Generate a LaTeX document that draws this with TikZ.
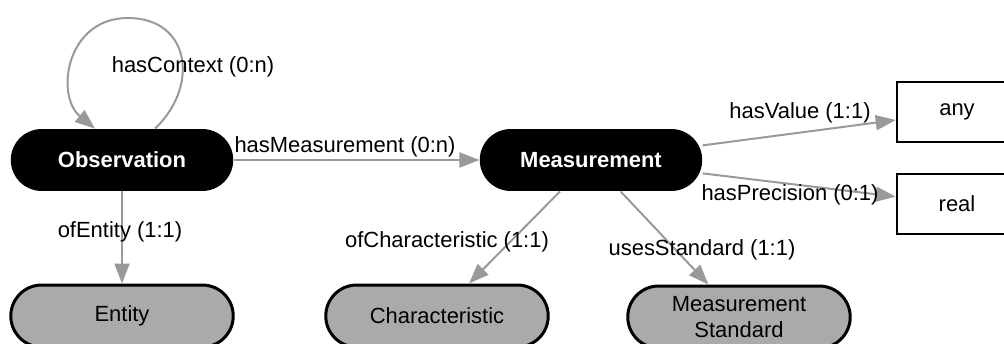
\documentclass[tikz,border=0pt]{standalone}
\usepackage{fontspec}
\setmainfont{Liberation Sans}
\usetikzlibrary{positioning, arrows.meta}
\definecolor{linkgray}{HTML}{999999}
\definecolor{boxgray}{HTML}{AAAAAA}

\begin{document}
\begin{tikzpicture}[x=0.02cm, y=-0.02cm,
    every node/.style={font=\fontsize{12.5}{15.3}\selectfont},
    term/.style={rounded corners=0.62cm, minimum width=4.45cm, minimum height=1.24cm, align=center, inner sep=0pt},
    mainbox/.style={term, fill=black, text=white, font=\fontsize{12.5}{15.3}\selectfont\bfseries},
    subbox/.style={term, fill=boxgray, draw=black, line width=0.06cm},
    litbox/.style={draw=black, line width=0.055cm, minimum width=2.4cm, minimum height=1.2cm},
    link/.style={draw=linkgray, line width=0.04cm, -{Triangle[length=0.4cm, width=0.3cm]}}]
    \useasboundingbox (0,0) rectangle (1004,344);
    % Classes
    \node[mainbox] (obs) at (122,160) {Observation};
    \node[mainbox] (msr) at (591,160) {Measurement};
    \node[subbox] (ent) at (122,316) {Entity};
    \node[subbox] (chr) at (437,316) {Characteristic};
    \node[subbox] (std) at (739,317) {Measurement\\Standard};
    \node[litbox] (anyv) at (957,112) {any};
    \node[litbox] (realv) at (957,204) {real};
    % Links
    \coordinate (ctxtop) at (128,18);
    \draw[link] ([xshift=0.66cm]obs.north) .. controls +(45,-43) and +(62,0) .. (ctxtop)
        .. controls +(-62,0) and +(-40,-33) .. ([xshift=-0.54cm]obs.north);
    \draw[link] (obs) -- (msr);
    \draw[link] (obs) -- (ent);
    \draw[link] (msr) -- (chr);
    \draw[link] (msr) -- (std);
    \draw[link] (msr) -- (anyv);
    \draw[link] (msr) -- (realv);
    % Labels
    \node (lctx) at (193,67) {hasContext (0:n)};
    \node (lmsr) at (345,147) {hasMeasurement (0:n)};
    \node (lent) at (120,232) {ofEntity (1:1)};
    \node (lchr) at (447,242) {ofCharacteristic (1:1)};
    \node (lstd) at (702,250) {usesStandard (1:1)};
    \node (lval) at (800,113) {hasValue (1:1)};
    \node (lpre) at (790,195) {hasPrecision (0:1)};
\end{tikzpicture}
\end{document}
